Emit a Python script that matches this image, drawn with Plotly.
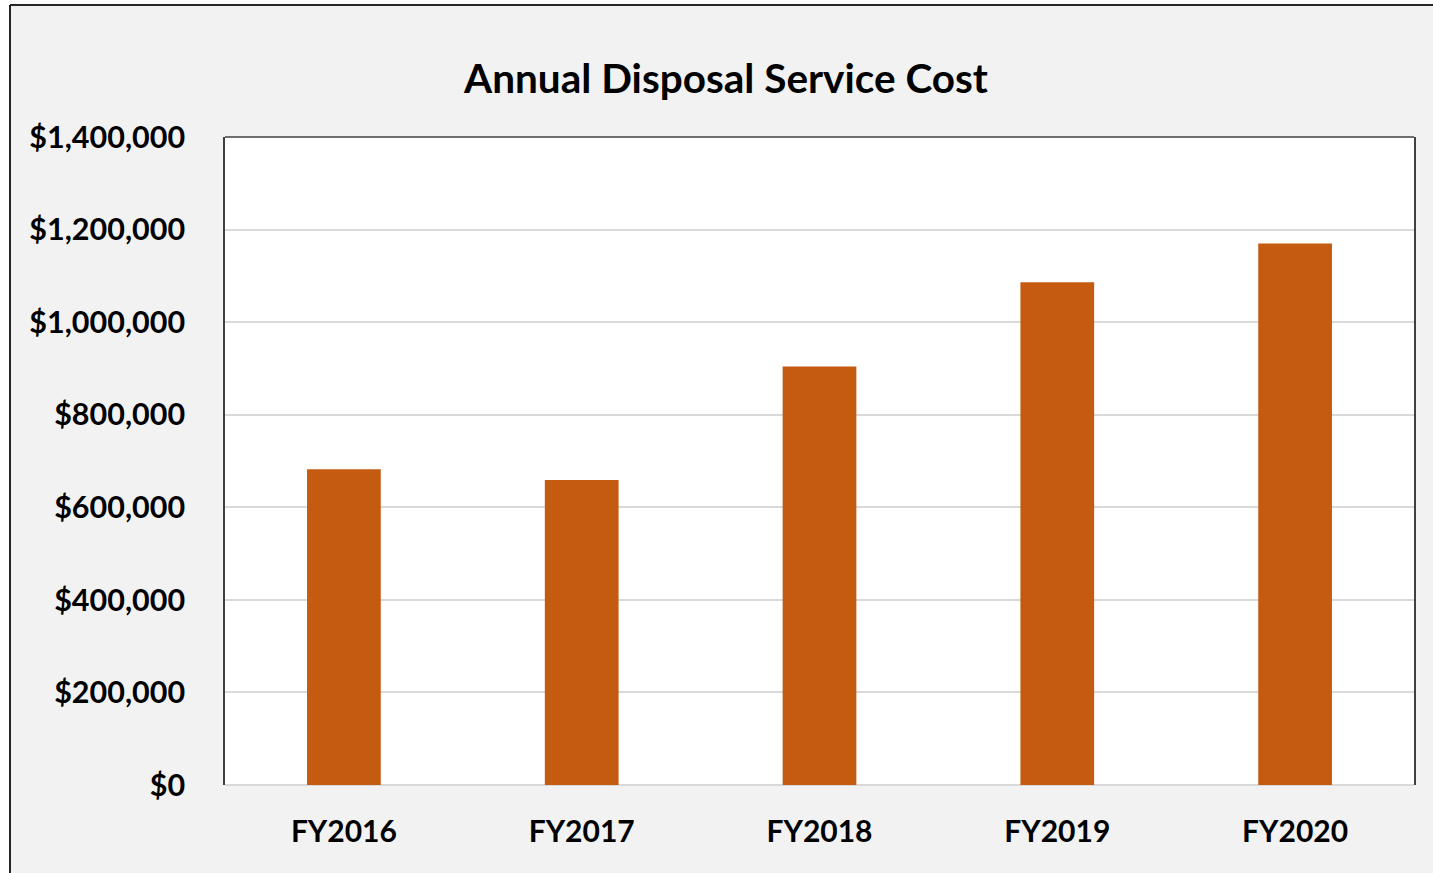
import plotly.graph_objects as go

categories = ["FY2016", "FY2017", "FY2018", "FY2019", "FY2020"]
costs = [682000, 659000, 904000, 1086000, 1170000]
y_ticks = [0, 200000, 400000, 600000, 800000, 1000000, 1200000, 1400000]

W, H = 1433, 873
L, R, T, B = 225, 19, 137, 88
pw, ph = W - L - R, H - T - B

def px_x(px):
    return (px - L) / pw

def px_y(py):
    return (H - B - py) / ph

font_family = "Lato"

fig = go.Figure(go.Bar(
    x=categories, y=costs,
    marker=dict(color="#c55a11", line=dict(width=0)),
    width=0.31,
))

fig.update_layout(
    width=W, height=H,
    margin=dict(l=L, r=R, t=T, b=B, autoexpand=False),
    paper_bgcolor="#f2f2f2",
    plot_bgcolor="white",
    showlegend=False,
    font=dict(family=font_family, color="black"),
    title=dict(
        text="Annual Disposal Service Cost",
        font=dict(family=font_family, size=40.5, color="black", weight="bold"),
        x=726 / W, xanchor="center", xref="container",
        y=1 - 79 / H, yanchor="middle", yref="container",
    ),
    xaxis=dict(
        showgrid=False, showline=False, ticks="",
        tickfont=dict(family=font_family, size=30, color="black", weight="bold"),
        ticklabelstandoff=26,
    ),
    yaxis=dict(
        range=[0, 1400000], tickvals=y_ticks, tickformat="$,.0f",
        showgrid=True, gridcolor="#d9d9d9", gridwidth=2,
        zeroline=True, zerolinecolor="#d9d9d9", zerolinewidth=2,
        showline=True, mirror=True, linecolor="#404040", linewidth=1.5,
        ticks="", ticklabelstandoff=32,
        tickfont=dict(family=font_family, size=30.5, color="black", weight="bold"),
    ),
    shapes=[
        dict(type="line", xref="paper", yref="paper", x0=0, x1=1, y0=1, y1=1,
             line=dict(color="#404040", width=1.5)),
        # white strips outside the outer border
        dict(type="rect", xref="paper", yref="paper", x0=px_x(-5), x1=px_x(9), y0=px_y(H + 5), y1=px_y(-5),
             fillcolor="white", line=dict(width=0)),
        dict(type="rect", xref="paper", yref="paper", x0=px_x(-5), x1=px_x(W + 5), y0=px_y(4), y1=px_y(-5),
             fillcolor="white", line=dict(width=0)),
        # outer border (left and top)
        dict(type="line", xref="paper", yref="paper", x0=px_x(10), x1=px_x(10), y0=px_y(H + 5), y1=px_y(5),
             line=dict(color="#262626", width=2)),
        dict(type="line", xref="paper", yref="paper", x0=px_x(10), x1=px_x(W + 5), y0=px_y(5), y1=px_y(5),
             line=dict(color="#262626", width=2)),
    ],
)

fig.write_html("out.html", config={"displayModeBar": False},
               post_script="document.body.style.margin='0';")
